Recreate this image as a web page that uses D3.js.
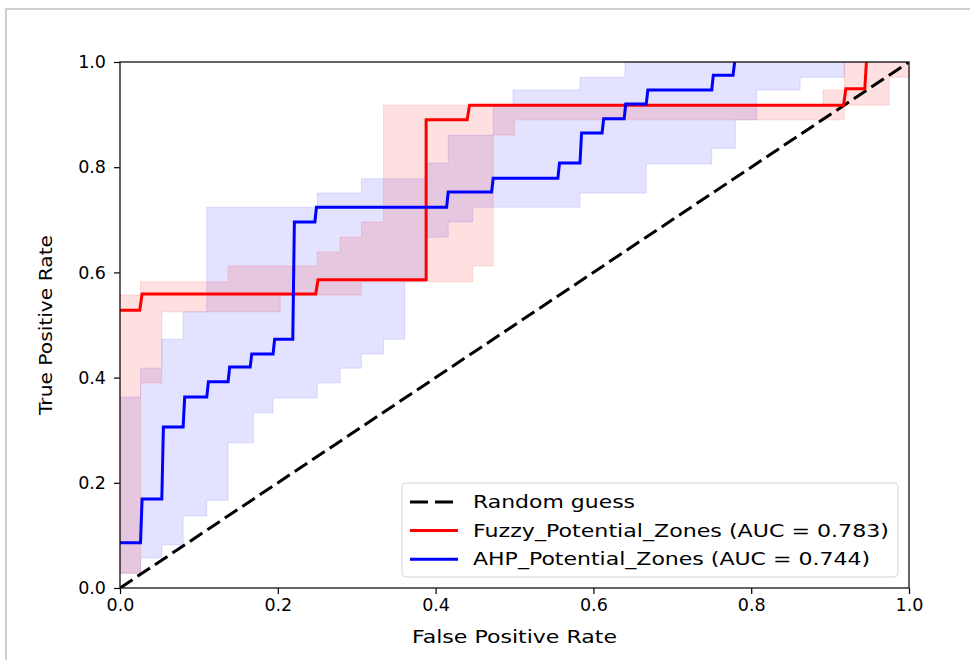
<!DOCTYPE html>
<html>
<head>
<meta charset="utf-8">
<script src="https://cdn.jsdelivr.net/npm/d3@7"></script>
<style>
  body { margin: 0; background: #fff; }
  svg text { font-family: "DejaVu Sans", sans-serif; fill: #000; }
</style>
</head>
<body>
<svg id="chart"></svg>
<script>
// ROC curves (mean)
var fuzzy_fpr = [0, 0.025, 0.028, 0.248, 0.251, 0.388, 0.388, 0.44, 0.443, 0.917, 0.92, 0.944, 0.946];
var fuzzy_tpr = [0.528, 0.528, 0.559, 0.559, 0.586, 0.586, 0.890, 0.890, 0.918, 0.918, 0.949, 0.949, 1];

var ahp_fpr = [0, 0.026, 0.028, 0.053, 0.055, 0.08, 0.082, 0.11, 0.112, 0.137, 0.139, 0.165, 0.167,
  0.194, 0.196, 0.219, 0.221, 0.247, 0.249, 0.414, 0.416, 0.471, 0.473, 0.555, 0.557, 0.583, 0.585,
  0.611, 0.613, 0.639, 0.641, 0.667, 0.669, 0.75, 0.752, 0.777, 0.779];
var ahp_tpr = [0.086, 0.086, 0.169, 0.169, 0.306, 0.306, 0.363, 0.363, 0.392, 0.392, 0.42, 0.42, 0.445,
  0.445, 0.473, 0.473, 0.696, 0.696, 0.724, 0.724, 0.753, 0.753, 0.779, 0.779, 0.808, 0.808, 0.865,
  0.865, 0.892, 0.892, 0.92, 0.92, 0.947, 0.947, 0.975, 0.975, 1];

// +/- std bands (step shaped)
var fuzzy_band_x = [0, 0.026, 0.053, 0.137, 0.203, 0.25, 0.279, 0.306, 0.334, 0.447, 0.473, 0.5, 0.891, 0.918, 0.975, 1];
var fuzzy_band_lo = [0.028, 0.39, 0.525, 0.525, 0.557, 0.557, 0.557, 0.582, 0.582, 0.612, 0.861, 0.89, 0.89, 0.918, 0.971, 0.971];
var fuzzy_band_hi = [0.557, 0.582, 0.582, 0.612, 0.612, 0.639, 0.667, 0.696, 0.918, 0.918, 0.918, 0.918, 0.947, 1, 1, 1];

var ahp_band_x = [0, 0.026, 0.053, 0.08, 0.11, 0.137, 0.169, 0.194, 0.25, 0.279, 0.306, 0.334, 0.361, 0.388,
  0.416, 0.447, 0.473, 0.498, 0.583, 0.64, 0.667, 0.75, 0.78, 0.807, 0.862, 0.918, 1];
var ahp_band_lo = [0.028, 0.057, 0.082, 0.137, 0.167, 0.276, 0.333, 0.361, 0.39, 0.418, 0.445, 0.473, 0.582, 0.667,
  0.696, 0.724, 0.724, 0.724, 0.751, 0.751, 0.806, 0.836, 0.89, 0.947, 0.971, 1, 1];
var ahp_band_hi = [0.363, 0.418, 0.473, 0.525, 0.724, 0.724, 0.724, 0.724, 0.751, 0.751, 0.778, 0.778, 0.778, 0.808,
  0.861, 0.861, 0.918, 0.947, 0.971, 1, 1, 1, 1, 1, 1, 1, 1];

var ticks = [0, 0.2, 0.4, 0.6, 0.8, 1.0];
var legend_labels = ['Random guess', 'Fuzzy_Potential_Zones (AUC = 0.783)', 'AHP_Potential_Zones (AUC = 0.744)'];
var legend_widths = [162, 416, 397];

(function() {
  // layout
  var svg_width = 970,
    svg_height = 660,
    plot_left = 120, plot_right = 909, plot_top = 62, plot_bottom = 588;

  var svg = d3.select('#chart').attr('width', svg_width).attr('height', svg_height);

  // outer gray frame
  svg.append('path')
    .attr('d', 'M6,660 V9 H970')
    .attr('fill', 'none')
    .attr('stroke', '#cfcfcf')
    .attr('stroke-width', 2);

  var x = d3.scaleLinear().domain([0, 1]).range([plot_left, plot_right]);
  var y = d3.scaleLinear().domain([0, 1]).range([plot_bottom, plot_top]);

  svg.append('clipPath').attr('id', 'plot-clip')
    .append('rect')
    .attr('x', plot_left).attr('y', plot_top)
    .attr('width', plot_right - plot_left).attr('height', plot_bottom - plot_top);

  var g = svg.append('g').attr('clip-path', 'url(#plot-clip)');

  function zip(xs, ys) {
    return xs.map(function(v, i) { return [v, ys[i]]; });
  }

  var band_area = d3.area()
    .curve(d3.curveStepAfter)
    .x(function(d) { return x(d[0]); })
    .y0(function(d) { return y(d[1]); })
    .y1(function(d) { return y(d[2]); });

  function band(xs, lo, hi, color, op) {
    g.append('path')
      .datum(xs.map(function(v, i) { return [v, lo[i], hi[i]]; }))
      .attr('d', band_area)
      .attr('fill', color)
      .attr('fill-opacity', op)
      .attr('stroke', color)
      .attr('stroke-opacity', op)
      .attr('stroke-width', 1);
  }

  band(ahp_band_x, ahp_band_lo, ahp_band_hi, 'blue', 0.11);
  band(fuzzy_band_x, fuzzy_band_lo, fuzzy_band_hi, 'red', 0.12);

  var line = d3.line()
    .x(function(d) { return x(d[0]); })
    .y(function(d) { return y(d[1]); });

  // diagonal
  g.append('path')
    .datum([[0, 0], [1, 1]])
    .attr('d', line)
    .attr('fill', 'none')
    .attr('stroke', '#000')
    .attr('stroke-width', 3)
    .attr('stroke-dasharray', '15,6');

  g.append('path')
    .datum(zip(fuzzy_fpr, fuzzy_tpr))
    .attr('d', line)
    .attr('fill', 'none')
    .attr('stroke', 'red')
    .attr('stroke-width', 3);

  g.append('path')
    .datum(zip(ahp_fpr, ahp_tpr))
    .attr('d', line)
    .attr('fill', 'none')
    .attr('stroke', 'blue')
    .attr('stroke-width', 3);

  // axes
  var fmt = d3.format('.1f');
  var x_axis = svg.append('g')
    .attr('transform', 'translate(0,' + plot_bottom + ')')
    .call(d3.axisBottom(x).tickValues(ticks).tickFormat(fmt).tickSizeOuter(0).tickSize(6).tickPadding(5));
  var y_axis = svg.append('g')
    .attr('transform', 'translate(' + plot_left + ',0)')
    .call(d3.axisLeft(y).tickValues(ticks).tickFormat(fmt).tickSizeOuter(0).tickSize(6).tickPadding(8));

  [x_axis, y_axis].forEach(function(a) {
    a.select('.domain').remove();
    a.selectAll('line').attr('stroke', '#000').attr('stroke-width', 1.2);
    a.selectAll('text').style('font-size', '17.5px').attr('fill', '#000');
  });

  // spines
  svg.append('rect')
    .attr('x', plot_left).attr('y', plot_top)
    .attr('width', plot_right - plot_left).attr('height', plot_bottom - plot_top)
    .attr('fill', 'none')
    .attr('stroke', '#111')
    .attr('stroke-width', 1.3);

  svg.append('text')
    .attr('x', (plot_left + plot_right) / 2)
    .attr('y', 643)
    .attr('text-anchor', 'middle')
    .style('font-size', '17px')
    .attr('textLength', 205)
    .attr('lengthAdjust', 'spacingAndGlyphs')
    .text('False Positive Rate');

  svg.append('text')
    .attr('transform', 'translate(52,' + ((plot_top + plot_bottom) / 2) + ') rotate(-90)')
    .attr('text-anchor', 'middle')
    .style('font-size', '17px')
    .attr('textLength', 180)
    .attr('lengthAdjust', 'spacingAndGlyphs')
    .text('True Positive Rate');

  // legend
  var lg = svg.append('g');
  lg.append('rect')
    .attr('x', 402).attr('y', 483)
    .attr('width', 496).attr('height', 94)
    .attr('rx', 4)
    .attr('fill', '#fff')
    .attr('fill-opacity', 0.8)
    .attr('stroke', '#d6d6d6');

  var legend_styles = [
    { color: '#000', dash: '18,7' },
    { color: 'red', dash: null },
    { color: 'blue', dash: null }
  ];

  legend_labels.forEach(function(lab, i) {
    var cy = 502 + i * 28.6;
    lg.append('line')
      .attr('x1', 410).attr('x2', i === 0 ? 453 : 458)
      .attr('y1', cy).attr('y2', cy)
      .attr('stroke', legend_styles[i].color)
      .attr('stroke-width', 3)
      .attr('stroke-dasharray', legend_styles[i].dash);
    lg.append('text')
      .attr('x', 473)
      .attr('y', cy + 6)
      .style('font-size', '17px')
      .attr('textLength', legend_widths[i])
      .attr('lengthAdjust', 'spacingAndGlyphs')
      .text(lab);
  });
})();
</script>
</body>
</html>
